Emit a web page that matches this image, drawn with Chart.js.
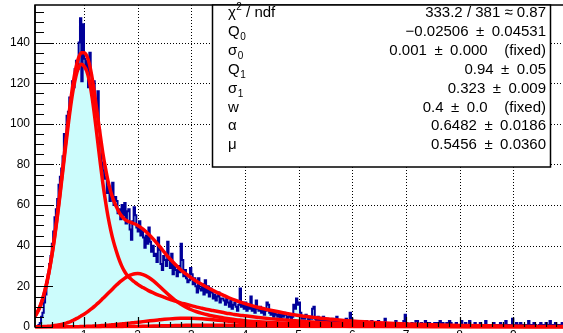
<!DOCTYPE html>
<html>
<head>
<meta charset="utf-8">
<title>PMT charge spectrum fit</title>
<script src="https://cdn.jsdelivr.net/npm/chart.js@4"></script>
<style>
  html, body { margin: 0; padding: 0; background: #fff; overflow: hidden; }
  #c { display: block; }
</style>
</head>
<body>
<canvas id="c" width="570" height="350"></canvas>
<script>
// histogram: 396 bins of 0.025 starting at 0.1
const histLo = 0.1;
const binW = 0.025;
const counts = [
  0,0,0,1,2,5,7,12,16,22,26,31,35,41,47,54,58,63,70,74,
  78,84,95,92,104,106,113,112,121,118,127,131,127,140,152,121,149,132,128,131,
  118,135,124,112,121,104,108,116,97,90,81,77,73,74,66,69,62,65,71,60,
  64,62,56,58,53,60,55,61,51,57,58,48,43,52,59,55,49,47,52,45,
  48,44,39,45,41,49,42,37,40,35,36,32,44,38,31,28,35,33,30,42,
  33,29,36,26,31,28,25,30,27,41,33,25,28,24,22,23,29,26,21,24,
  20,17,24,19,18,21,16,23,17,20,15,19,17,14,16,13,15,17,12,14,
  14,13,11,14,12,10,13,9,11,12,10,8,11,19,10,12,9,12,8,10,
  9,15,8,10,7,13,9,8,10,7,9,6,8,12,11,7,6,8,5,7,
  6,5,7,4,6,5,7,6,4,5,6,4,5,11,9,14,11,12,7,4,
  5,4,6,5,3,5,4,9,10,4,3,5,2,4,3,5,3,2,4,3,
  3,2,4,3,2,5,3,2,3,1,3,2,4,2,3,7,4,2,3,1,
  2,3,1,2,3,2,1,3,2,0,2,3,1,2,1,2,3,1,2,1,
  1,4,2,1,2,0,1,2,1,3,1,2,0,1,2,3,6,2,1,1,
  1,2,0,1,3,3,1,0,2,1,1,3,0,1,2,1,0,1,2,1,
  2,1,3,1,2,1,0,2,1,3,2,1,0,1,2,1,1,0,3,1,
  1,2,0,1,3,1,0,1,2,1,0,1,2,0,1,0,3,1,0,1,
  1,0,2,0,1,1,0,2,1,0,1,3,0,1,0,1,4,0,1,2,
  1,0,2,1,0,1,0,1,3,0,1,0,2,1,0,0,1,2,0,1,
  0,2,0,1,3,0,1,0,2,1,0,1,0,2,1,0
];

// fitted response: sampled abscissae and the curves on them
const fitX = [
  0.09,0.15,0.2,0.25,0.3,0.35,0.4,0.45,0.5,0.55,0.6,0.65,0.7,0.75,0.8,0.85,0.9,0.95,1.0,
  1.05,1.1,1.15,1.2,1.25,1.3,1.35,1.4,1.45,1.5,1.55,1.6,1.65,1.7,1.75,1.8,1.85,1.9,1.95,2.0,
  2.1,2.2,2.3,2.4,2.5,2.6,2.7,2.8,2.9,3.0,3.1,3.2,3.3,3.4,3.5,3.6,3.7,3.8,3.9,4.0,
  4.25,4.5,4.75,5.0,5.25,5.5,5.75,6.0,6.5,7.0,7.5,8.0,8.5,9.0,9.5,10.0
];
const fitTotal = [
  5.4,8.3,11.5,15.8,21.1,27.6,35.3,44.3,54.4,65.5,77.1,89,100.5,111.2,120.4,127.7,132.6,135,135,
  133.5,129.5,122.8,114.2,104.6,94.9,85.8,78.2,71.6,66.5,62.4,59.4,56.7,54.7,53.2,52.3,51.7,51.2,50.7,50.0,
  48.2,45.8,43.0,39.9,36.7,33.6,30.8,28.2,26.1,24.2,22.4,20.9,19.4,18.0,16.8,15.6,14.4,13.3,12.4,11.5,
  9.6,8.1,6.8,5.7,4.85,4.1,3.45,2.9,2.1,1.5,1.1,0.8,0.57,0.42,0.3,0.21
];
const fitN1 = [
  5.35,8.2,11.35,15.6,20.8,27.2,34.8,43.6,53.5,64.4,75.7,87.1,98.2,108.4,117,123.5,127.7,129.3,128.4,
  126,121,113.2,103.4,92.5,81.5,71,62,54,47.5,42,37.5,33.5,30.2,27.6,25.6,24.2,23,22,21,
  19.4,17.9,16.7,15.6,14.6,13.6,12.8,11.9,11.2,10.5,9.8,9.2,8.6,8.1,7.6,7.1,6.6,6.2,5.8,5.5,
  4.7,4.0,3.4,2.9,2.5,2.1,1.8,1.5,1.1,0.79,0.57,0.41,0.3,0.22,0.16,0.11
];
const fitN2 = [
  0.05,0.1,0.15,0.2,0.3,0.4,0.5,0.7,0.9,1.1,1.4,1.8,2.2,2.7,3.3,4.0,4.7,5.5,6.3,
  7.2,8.2,9.2,10.3,11.5,12.7,14.0,15.3,16.6,17.9,19.2,20.5,21.7,22.8,23.8,24.7,25.4,25.9,26.2,26.3,
  25.8,24.5,22.6,20.2,17.7,15.3,13.1,11.3,9.8,8.5,7.5,6.7,6.0,5.4,4.9,4.5,4.1,3.7,3.4,3.1,
  2.6,2.2,1.85,1.55,1.3,1.1,0.93,0.79,0.57,0.41,0.3,0.21,0.15,0.11,0.08,0.06
];
const fitN3 = [
  0,0,0,0,0.01,0.01,0.02,0.02,0.03,0.04,0.05,0.06,0.08,0.1,0.12,0.15,0.18,0.22,0.26,
  0.31,0.36,0.42,0.48,0.55,0.63,0.72,0.81,0.91,1.02,1.13,1.25,1.37,1.5,1.63,1.77,1.91,2.05,2.2,2.35,
  2.65,2.95,3.25,3.52,3.78,4.0,4.17,4.28,4.32,4.3,4.2,4.05,3.85,3.6,3.35,3.1,2.85,2.6,2.37,2.15,
  1.7,1.36,1.1,0.9,0.75,0.62,0.52,0.44,0.31,0.22,0.16,0.12,0.08,0.06,0.04,0.03
];
const fitN4 = [
  0,0,0,0,0,0,0,0,0,0,0,0,0,0,0,0.01,0.01,0.01,0.02,
  0.02,0.03,0.03,0.04,0.05,0.06,0.07,0.08,0.09,0.1,0.12,0.13,0.15,0.17,0.19,0.21,0.23,0.25,0.28,0.3,
  0.35,0.41,0.47,0.53,0.59,0.65,0.71,0.76,0.81,0.85,0.88,0.9,0.91,0.91,0.9,0.88,0.85,0.81,0.77,0.73,
  0.62,0.52,0.43,0.36,0.3,0.25,0.21,0.18,0.13,0.09,0.07,0.05,0.04,0.03,0.02,0.015
];

const xTicks = [1, 2, 3, 4, 5, 6, 7, 8, 9];
const yTicks = [0, 20, 40, 60, 80, 100, 120, 140];

// fit statistics box
const PM = '\u2002±\u2002';
const statNames = ['χ', 'Q', 'σ', 'Q', 'σ', 'w', 'α', 'μ'];
const statSubs = ['', '0', '0', '1', '1', '', '', ''];
const statSups = ['2', '', '', '', '', '', '', ''];
const statTails = [' / ndf', '', '', '', '', '', '', ''];
const statValues = [
  '333.2 / 381 ≈ 0.87',
  '−0.02506' + PM + '0.04531',
  '0.001' + PM + '0.000    (fixed)',
  '0.94' + PM + '0.05',
  '0.323' + PM + '0.009',
  '0.4' + PM + '0.0    (fixed)',
  '0.6482' + PM + '0.0186',
  '0.5456' + PM + '0.0360'
];

const FONT = '"Liberation Sans", Arial, Helvetica, sans-serif';

const histPts = counts.map((c, i) => ({ x: histLo + i * binW, y: c }));
histPts.push({ x: histLo + counts.length * binW, y: counts[counts.length - 1] });

const curve = (ys) => ys.map((v, i) => ({ x: fitX[i], y: v }));

// thick fit lines may run a little past the lower frame edge
const fitStyle = {
  borderColor: '#ff0000',
  borderWidth: 3.5,
  pointRadius: 0,
  fill: false,
  cubicInterpolationMode: 'monotone',
  clip: { left: 0, top: 0, right: 0, bottom: 1.5 },
  order: 1
};

// ROOT-like frame: frame and dotted grid under the data; ticks, labels and stat box on top
const rootFrame = {
  id: 'rootFrame',
  beforeDatasetsDraw(chart) {
    const { ctx, chartArea: a, scales: { x, y } } = chart;
    ctx.save();
    ctx.strokeStyle = '#000';
    ctx.lineWidth = 1.5;
    ctx.strokeRect(a.left, a.top, a.right - a.left, a.bottom - a.top);

    ctx.beginPath();
    ctx.rect(a.left, a.top, a.right - a.left, a.bottom - a.top);
    ctx.clip();
    ctx.lineWidth = 1;
    ctx.setLineDash([1, 2]);
    ctx.beginPath();
    for (const v of xTicks) {
      const px = Math.round(x.getPixelForValue(v)) + 0.5;
      ctx.moveTo(px, a.top); ctx.lineTo(px, a.bottom);
    }
    for (const v of yTicks) {
      if (v === 0) continue;
      const py = Math.round(y.getPixelForValue(v)) + 0.5;
      ctx.moveTo(a.left, py); ctx.lineTo(a.right, py);
    }
    ctx.stroke();
    ctx.restore();
  },
  afterDatasetsDraw(chart) {
    const { ctx, chartArea: a, scales: { x, y } } = chart;
    ctx.save();
    ctx.strokeStyle = '#000';
    ctx.lineWidth = 1.2;
    ctx.beginPath();
    // y ticks every 5, long every 20
    for (let v = 0; v <= y.max; v += 5) {
      const py = Math.round(y.getPixelForValue(v)) + 0.5;
      const len = v % 20 === 0 ? 18 : 9;
      ctx.moveTo(a.left, py); ctx.lineTo(a.left + len, py);
    }
    // x ticks every 0.2, long at integers
    for (let k = 1; k * 0.2 < x.max; k++) {
      const v = k * 0.2;
      if (v < x.min) continue;
      const px = Math.round(x.getPixelForValue(v)) + 0.5;
      const len = k % 5 === 0 ? 10 : 5;
      ctx.moveTo(px, a.bottom); ctx.lineTo(px, a.bottom - len);
    }
    ctx.stroke();
    // left edge stays crisp over the fill
    ctx.lineWidth = 1.5;
    ctx.beginPath();
    ctx.moveTo(a.left, a.top); ctx.lineTo(a.left, a.bottom);
    ctx.stroke();

    // axis labels
    ctx.fillStyle = '#000';
    ctx.font = '12px ' + FONT;
    ctx.textAlign = 'right';
    ctx.textBaseline = 'middle';
    for (const v of yTicks) ctx.fillText(String(v), a.left - 5, y.getPixelForValue(v));
    ctx.textAlign = 'center';
    ctx.textBaseline = 'top';
    for (const v of xTicks) ctx.fillText(String(v), x.getPixelForValue(v), a.bottom + 3);

    // stat box
    const bx = 212, by = a.top, bw = 338, bh = 162;
    ctx.fillStyle = '#fff';
    ctx.fillRect(bx, by, bw, bh);
    ctx.lineWidth = 1.5;
    ctx.strokeRect(bx + 0.5, by, bw, bh);

    ctx.fillStyle = '#000';
    ctx.textBaseline = 'alphabetic';
    statNames.forEach((nm, i) => {
      const base = a.top + 12 + i * 18.9;
      let cx = 228;
      ctx.font = '15px ' + FONT;
      ctx.textAlign = 'left';
      ctx.fillText(nm, cx, base);
      cx += ctx.measureText(nm).width;
      if (statSups[i]) {
        ctx.font = '10px ' + FONT;
        ctx.fillText(statSups[i], cx + 0.5, base - 7);
        cx += ctx.measureText(statSups[i]).width + 0.5;
      }
      if (statSubs[i]) {
        ctx.font = '10px ' + FONT;
        ctx.fillText(statSubs[i], cx + 0.5, base + 4);
      }
      if (statTails[i]) {
        ctx.font = '15px ' + FONT;
        ctx.fillText(statTails[i], cx, base);
      }
      ctx.font = '15px ' + FONT;
      ctx.textAlign = 'right';
      ctx.fillText(statValues[i], 546, base);
    });
    ctx.restore();
  }
};

new Chart(document.getElementById('c'), {
  type: 'line',
  data: {
    datasets: [
      { label: 'total', data: curve(fitTotal), ...fitStyle },
      { label: 'n1', data: curve(fitN1), ...fitStyle },
      { label: 'n2', data: curve(fitN2), ...fitStyle },
      { label: 'n3', data: curve(fitN3), ...fitStyle },
      { label: 'n4', data: curve(fitN4), ...fitStyle },
      {
        label: 'charge',
        data: histPts,
        stepped: 'after',
        borderColor: '#000099',
        borderWidth: 2,
        backgroundColor: 'rgb(204,252,252)',
        fill: 'origin',
        pointRadius: 0,
        clip: 0,
        order: 10
      }
    ]
  },
  options: {
    responsive: false,
    animation: false,
    devicePixelRatio: 1,
    layout: { padding: { top: 5, right: 3, left: 0, bottom: 0 } },
    plugins: { legend: { display: false }, tooltip: { enabled: false } },
    scales: {
      x: {
        type: 'linear',
        min: 0.087,
        max: 10.0,
        grid: { display: false },
        border: { display: false },
        ticks: { display: false },
        afterFit: (s) => { s.height = 23; }
      },
      y: {
        min: 0,
        max: 158.5,
        grid: { display: false },
        border: { display: false },
        ticks: { display: false },
        afterFit: (s) => { s.width = 35; }
      }
    }
  },
  plugins: [rootFrame]
});
</script>
</body>
</html>
